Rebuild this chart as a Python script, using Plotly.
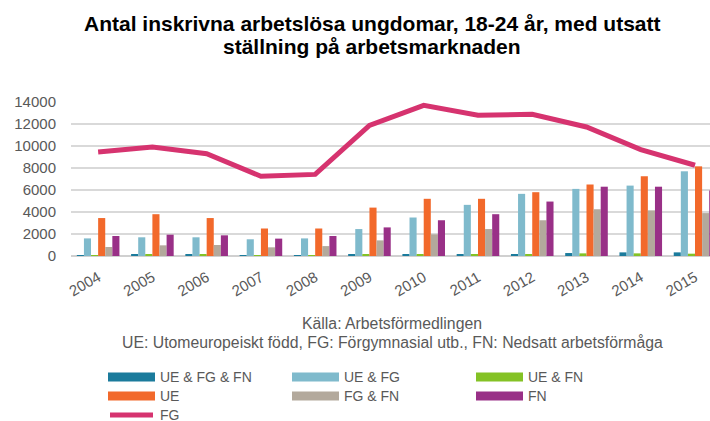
import plotly.graph_objects as go

years = ["2004", "2005", "2006", "2007", "2008", "2009", "2010", "2011", "2012", "2013", "2014", "2015"]

ue_fg_fn = [90, 100, 100, 90, 90, 100, 120, 120, 180, 270, 330, 330]
ue_fg = [1600, 1700, 1700, 1520, 1600, 2450, 3500, 4650, 5650, 6100, 6400, 7700]
ue_fn = [90, 100, 100, 90, 90, 110, 150, 150, 180, 240, 240, 210]
ue = [3450, 3800, 3450, 2500, 2500, 4400, 5200, 5200, 5800, 6500, 7250, 8150]
fg_fn = [820, 970, 1000, 790, 900, 1420, 1970, 2450, 3250, 4250, 4150, 3900]
fn = [1820, 1940, 1880, 1580, 1820, 2600, 3250, 3800, 4950, 6300, 6300, 5950]
fg = [9450, 9900, 9300, 7250, 7420, 11880, 13700, 12800, 12880, 11730, 9670, 8250]

bar_series = [
    ("UE & FG & FN", ue_fg_fn, "#1B7B9C"),
    ("UE & FG", ue_fg, "#7FBACC"),
    ("UE & FN", ue_fn, "#84C225"),
    ("UE", ue, "#F2692B"),
    ("FG & FN", fg_fn, "#B3A99C"),
    ("FN", fn, "#993087"),
]
line_series = ("FG", fg, "#D6336F")

title_lines = ["Antal inskrivna arbetslösa ungdomar, 18-24 år, med utsatt",
               "ställning på arbetsmarknaden"]
source_lines = ["Källa: Arbetsförmedlingen",
                "UE: Utomeuropeiskt född, FG: Förgymnasial utb., FN: Nedsatt arbetsförmåga"]
y_ticks = [0, 2000, 4000, 6000, 8000, 10000, 12000, 14000]

FONT = "Liberation Sans, Arial, sans-serif"
GREY = "#595959"
W, H = 710, 421
ML, MR, MT, MB = 71, 0, 102, 165
PW, PH = W - ML - MR, H - MT - MB


def px(x):
    return (x - ML) / PW


def py(y):
    return (H - MB - y) / PH


fig = go.Figure()
for name, vals, col in bar_series:
    fig.add_trace(go.Bar(x=years, y=vals, name=name, marker=dict(color=col, line=dict(width=0)),
                         showlegend=False))
fig.add_trace(go.Scatter(x=years, y=line_series[1], name=line_series[0], mode="lines",
                         line=dict(color=line_series[2], width=5), showlegend=False))

fig.update_layout(
    width=W, height=H,
    margin=dict(l=ML, r=MR, t=MT, b=MB),
    paper_bgcolor="white", plot_bgcolor="white",
    barmode="group", bargap=0.215, bargroupgap=0,
    font=dict(family=FONT, color=GREY, size=15),
    xaxis=dict(type="category", range=[-0.5, 11.276], tickangle=-30, showgrid=False,
               showline=False, ticks="", tickfont=dict(size=15, color=GREY), fixedrange=True,
               automargin=False, ticklabelstandoff=9),
    yaxis=dict(range=[0, 14000], tickvals=y_ticks, ticktext=[str(v) for v in y_ticks],
               showgrid=True, gridcolor="#D9D9D9",
               gridwidth=2, zeroline=True, zerolinecolor="#D0D0D0", zerolinewidth=2,
               ticklabelstandoff=14, tickfont=dict(size=15, color=GREY), fixedrange=True,
               automargin=False),
)

# Title (two lines)
for i, t in enumerate(title_lines):
    fig.add_annotation(text="<b>%s</b>" % t, x=px(372), y=py(24 + 23 * i),
                       xref="paper", yref="paper", xanchor="center", yanchor="middle",
                       showarrow=False, font=dict(family=FONT, size=21, color="#000000"))

# Source notes
for i, t in enumerate(source_lines):
    fig.add_annotation(text=t, x=px(392), y=py(323 + 19 * i),
                       xref="paper", yref="paper", xanchor="center", yanchor="middle",
                       showarrow=False, font=dict(family=FONT, size=15.8, color=GREY))

# Custom legend (wide swatches, three columns)
legend_items = [(n, c, "bar") for n, _, c in bar_series] + [(line_series[0], line_series[2], "line")]
col_x = [108, 292, 476]
row_y = [377, 396, 415]
for k, (name, col, kind) in enumerate(legend_items):
    cx = col_x[k % 3]
    ry = row_y[k // 3]
    if kind == "bar":
        fig.add_shape(type="rect", xref="paper", yref="paper",
                      x0=px(cx), x1=px(cx + 47), y0=py(ry - 4.5), y1=py(ry + 4.5),
                      fillcolor=col, line=dict(width=0))
    else:
        fig.add_shape(type="line", xref="paper", yref="paper",
                      x0=px(cx + 2), x1=px(cx + 45), y0=py(ry), y1=py(ry),
                      line=dict(color=col, width=5))
    fig.add_annotation(text=name, x=px(cx + 50), y=py(ry), xref="paper", yref="paper",
                       xanchor="left", yanchor="middle", showarrow=False,
                       font=dict(family=FONT, size=14, color=GREY))

fig.write_html("out.html", config={"displayModeBar": False},
               post_script="document.body.style.margin='0';document.body.style.overflow='hidden';")
